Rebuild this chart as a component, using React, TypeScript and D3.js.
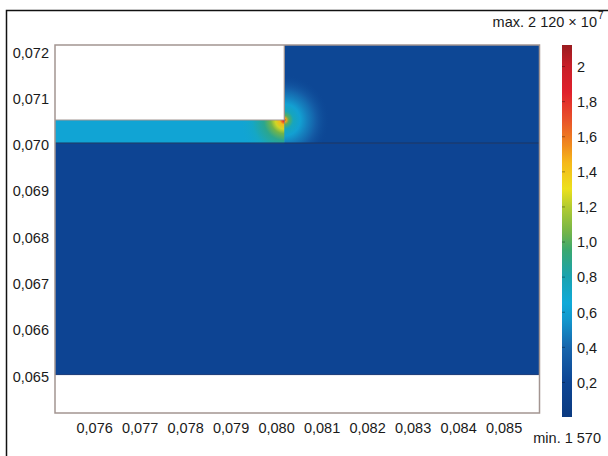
import React, { useEffect, useRef } from "react";
import * as d3 from "d3";

// axis ticks (metres)
const xTicks = [0.076, 0.077, 0.078, 0.079, 0.08, 0.081, 0.082, 0.083, 0.084, 0.085];
const yTicks = [0.065, 0.066, 0.067, 0.068, 0.069, 0.07, 0.071, 0.072];

// geometry
const xDomain = [0.07514, 0.08579];
const yDomain = [0.06417, 0.07212];
const cornerX = 0.08018; // end of the thin slot
const slotBottom = 0.07; // material boundary
const slotTop = 0.0705;
const lowerBottom = 0.065;

// field levels (x 10^7)
const levelLower = 0.19;
const levelUpper = 0.21;
const levelSlot = 0.62;

// radial profile around the slot tip: [distance, value]
const glowSlot = [
  [0, 2.1], [0.00004, 1.75], [0.0001, 1.45], [0.0002, 1.25],
  [0.0003, 1.05], [0.00045, 0.88], [0.0007, 0.72], [0.001, 0.62],
];
const glowUpper = [
  [0, 2.1], [0.00004, 1.5], [0.0001, 1.0], [0.0002, 0.75],
  [0.00035, 0.6], [0.0005, 0.48], [0.0007, 0.34], [0.001, 0.21],
];

// colour legend
const cbMin = 0.000157;
const cbMax = 2.12;
const cbTicks = [0.2, 0.4, 0.6, 0.8, 1.0, 1.2, 1.4, 1.6, 1.8, 2.0];
const cbLabels = ["0,2", "0,4", "0,6", "0,8", "1,0", "1,2", "1,4", "1,6", "1,8", "2"];
const cmapValues = [0, 0.2, 0.4, 0.55, 0.65, 0.8, 0.95, 1.05, 1.2, 1.3, 1.45, 1.55, 1.7, 1.85, 2.0, 2.12];
const cmapColors = [
  "#0b3a80", "#0d4594", "#1766ad", "#1396cc", "#10aad8", "#1aa3b0", "#3aa870", "#72b44a",
  "#b4cc30", "#ece01c", "#f5b81a", "#f08a1e", "#e8502a", "#e0202c", "#c81e28", "#9a1c20",
];

const FONT = "'Liberation Sans', Arial, sans-serif";

const App = () => {
  const svgRef = useRef<SVGSVGElement>(null);

  useEffect(() => {
    const w = 608;
    const h = 456;
    const svg = d3.select(svgRef.current).attr("width", w).attr("height", h);
    svg.selectAll("*").remove();

    const x = d3.scaleLinear().domain(xDomain).range([55, 539.5]);
    const y = d3.scaleLinear().domain(yDomain).range([413, 45]);
    const color = d3
      .scaleLinear<string>()
      .domain(cmapValues)
      .range(cmapColors)
      .interpolate(d3.interpolateRgb)
      .clamp(true);

    // outer frame
    svg
      .append("rect")
      .attr("x", 6.5)
      .attr("y", 10.5)
      .attr("width", 700)
      .attr("height", 600)
      .attr("fill", "none")
      .attr("stroke", "#111")
      .attr("stroke-width", 1.5);

    const defs = svg.append("defs");
    const cx = x(cornerX);
    const cy = y(slotTop);

    const radial = (id, profile) => {
      const R = profile[profile.length - 1][0];
      const rPx = x(xDomain[0] + R) - x(xDomain[0]);
      const g = defs
        .append("radialGradient")
        .attr("id", id)
        .attr("gradientUnits", "userSpaceOnUse")
        .attr("cx", cx)
        .attr("cy", cy)
        .attr("r", rPx);
      g.selectAll("stop")
        .data(profile)
        .join("stop")
        .attr("offset", (d) => d[0] / R)
        .attr("stop-color", (d) => color(d[1]))
        .attr("stop-opacity", (d, i) => (i === profile.length - 1 ? 0 : 1));
    };
    radial("glowSlot", glowSlot);
    radial("glowUpper", glowUpper);

    defs
      .append("clipPath")
      .attr("id", "clipSlot")
      .append("rect")
      .attr("x", x(xDomain[0]))
      .attr("y", y(slotTop))
      .attr("width", x(cornerX) - x(xDomain[0]))
      .attr("height", y(slotBottom) - y(slotTop));
    defs
      .append("clipPath")
      .attr("id", "clipUpper")
      .append("rect")
      .attr("x", x(cornerX))
      .attr("y", y(yDomain[1]))
      .attr("width", x(xDomain[1]) - x(cornerX))
      .attr("height", y(slotBottom) - y(yDomain[1]));

    // lower block
    svg
      .append("rect")
      .attr("x", x(xDomain[0]))
      .attr("y", y(slotBottom))
      .attr("width", x(xDomain[1]) - x(xDomain[0]))
      .attr("height", y(lowerBottom) - y(slotBottom))
      .attr("fill", color(levelLower));

    // upper right block
    svg
      .append("rect")
      .attr("x", x(cornerX))
      .attr("y", y(yDomain[1]))
      .attr("width", x(xDomain[1]) - x(cornerX))
      .attr("height", y(slotBottom) - y(yDomain[1]))
      .attr("fill", color(levelUpper));
    svg
      .append("rect")
      .attr("clip-path", "url(#clipUpper)")
      .attr("x", 0)
      .attr("y", 0)
      .attr("width", w)
      .attr("height", h)
      .attr("fill", "url(#glowUpper)");

    // slot
    svg
      .append("rect")
      .attr("x", x(xDomain[0]))
      .attr("y", y(slotTop))
      .attr("width", x(cornerX) - x(xDomain[0]))
      .attr("height", y(slotBottom) - y(slotTop))
      .attr("fill", color(levelSlot));
    svg
      .append("rect")
      .attr("clip-path", "url(#clipSlot)")
      .attr("x", 0)
      .attr("y", 0)
      .attr("width", w)
      .attr("height", h)
      .attr("fill", "url(#glowSlot)");

    // boundaries
    svg
      .append("line")
      .attr("x1", x(xDomain[0]))
      .attr("x2", x(xDomain[1]))
      .attr("y1", y(slotBottom))
      .attr("y2", y(slotBottom))
      .attr("stroke", "#163569")
      .attr("stroke-width", 1.2);
    svg
      .append("line")
      .attr("x1", x(xDomain[0]))
      .attr("x2", x(xDomain[1]))
      .attr("y1", y(lowerBottom))
      .attr("y2", y(lowerBottom))
      .attr("stroke", "#1a3a78")
      .attr("stroke-width", 1);

    const outline = "#a39591";
    svg
      .append("rect")
      .attr("x", x(xDomain[0]))
      .attr("y", y(yDomain[1]))
      .attr("width", x(xDomain[1]) - x(xDomain[0]))
      .attr("height", y(yDomain[0]) - y(yDomain[1]))
      .attr("fill", "none")
      .attr("stroke", outline)
      .attr("stroke-width", 1.5);
    svg
      .append("path")
      .attr(
        "d",
        `M${x(cornerX)},${y(yDomain[1])}V${y(slotTop)}H${x(xDomain[0])}`
      )
      .attr("fill", "none")
      .attr("stroke", outline)
      .attr("stroke-width", 1.2);

    // axes
    const fmt = (d) => d3.format(".3f")(d).replace(".", ",");
    const xAxis = svg
      .append("g")
      .attr("transform", `translate(0,${y(yDomain[0])})`)
      .call(d3.axisBottom(x).tickValues(xTicks).tickSize(0).tickPadding(10).tickFormat(fmt));
    const yAxis = svg
      .append("g")
      .attr("transform", `translate(${x(xDomain[0])},0)`)
      .call(d3.axisLeft(y).tickValues(yTicks).tickSize(0).tickPadding(6).tickFormat(fmt));
    [xAxis, yAxis].forEach((g) => {
      g.select(".domain").remove();
      g.selectAll("text").attr("fill", "#1a1a1a").style("font-family", FONT).style("font-size", "14.5px");
    });
    yAxis.selectAll("text").attr("dy", "0.45em");

    // colour bar
    const cb = d3.scaleLinear().domain([cbMin, cbMax]).range([417, 45]);
    const cbX = 562;
    const cbW = 10;
    const lg = defs
      .append("linearGradient")
      .attr("id", "cbGrad")
      .attr("gradientUnits", "userSpaceOnUse")
      .attr("x1", 0)
      .attr("x2", 0)
      .attr("y1", cb(cbMin))
      .attr("y2", cb(cbMax));
    lg.selectAll("stop")
      .data(cmapValues)
      .join("stop")
      .attr("offset", (d) => Math.max(0, (d - cbMin) / (cbMax - cbMin)))
      .attr("stop-color", (d) => color(d));
    svg
      .append("rect")
      .attr("x", cbX)
      .attr("y", cb(cbMax))
      .attr("width", cbW)
      .attr("height", cb(cbMin) - cb(cbMax))
      .attr("fill", "url(#cbGrad)");

    const cbAxis = svg
      .append("g")
      .attr("transform", `translate(${cbX},0)`)
      .call(
        d3
          .axisLeft(cb)
          .tickValues(cbTicks)
          .tickSize(-3)
          .tickFormat("")
      );
    cbAxis.select(".domain").remove();
    cbAxis.selectAll("line").attr("stroke", "rgba(0,0,0,0.35)");

    svg
      .append("g")
      .selectAll("text")
      .data(cbTicks)
      .join("text")
      .attr("x", 577)
      .attr("y", (d) => cb(d))
      .attr("dy", "0.4em")
      .attr("fill", "#1a1a1a")
      .style("font-family", FONT)
      .style("font-size", "14.5px")
      .text((d, i) => cbLabels[i]);

    svg
      .append("text")
      .attr("x", 597)
      .attr("y", 27)
      .attr("text-anchor", "end")
      .attr("fill", "#1a1a1a")
      .style("font-family", FONT)
      .style("font-size", "14.5px")
      .text("max. 2 120 × 10");
    svg
      .append("text")
      .attr("x", 598)
      .attr("y", 19)
      .attr("fill", "#1a1a1a")
      .style("font-family", FONT)
      .style("font-size", "10px")
      .text("7");
    svg
      .append("text")
      .attr("x", 601)
      .attr("y", 443)
      .attr("text-anchor", "end")
      .attr("fill", "#1a1a1a")
      .style("font-family", FONT)
      .style("font-size", "14.5px")
      .text("min. 1 570");
  }, []);

  return (
    <svg
      ref={svgRef}
      style={{ position: "absolute", left: 0, top: 0, display: "block", background: "#fff" }}
    />
  );
};

export default App;
